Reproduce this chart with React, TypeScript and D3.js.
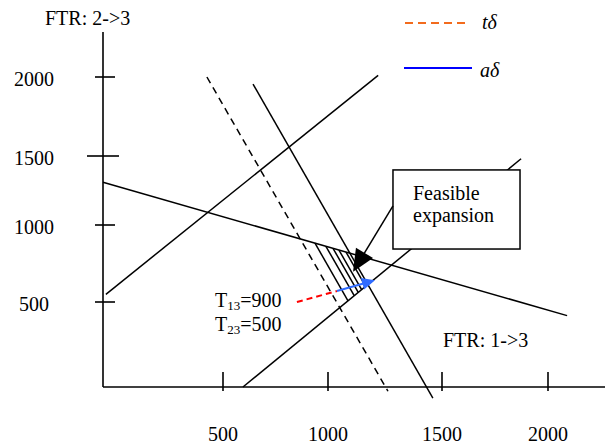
import React from "react";
import * as d3 from "d3";

// ---- data (FTR space, MW) ----
const xTicks = [500, 1000, 1500, 2000];
const yTicks = [500, 1000, 1500, 2000];
const xTickLabels = ["500", "1000", "1500", "2000"];
const yTickLabels = ["500", "1000", "1500", "2000"];

// constraint lines, each as two [FTR 1->3, FTR 2->3] points
const lineA = [[0, 1310], [2090, 420]];
const lineB = [[12, 550], [1220, 2010]];
const lineC = [[643, 1955], [1460, -65]];
const lineD = [[595, 0], [1873, 1480]];
const dashedLine = [[433, 2000], [1263, -25]];

// hatching of the feasible expansion region: start points on line A (FTR 1->3)
const hatchStarts = [938, 990, 1022, 1048, 1079];

// annotations
const boxCorners = [[1285, 1399], [1868, 844]];
const boxArrow = [[1285, 1138], [1110, 697]];
const redSegment = [[852, 500], [1039, 571]];
const blueArrow = [[1039, 571], [1206, 641]];
const axisMax = [2300, 2285];

const W = 605;
const H = 445;
const FONT = "Liberation Serif, Times New Roman, Times, DejaVu Serif, serif";

const x = d3.scaleLinear().domain([0, 500, 1000, 1500, 2000]).range([103, 223, 328, 442, 548]);
const y = d3.scaleLinear().domain([0, 500, 1000, 1500, 2000]).range([387, 302, 225, 156, 77]);

type P = number[];
const px = (p: P): [number, number] => [x(p[0]), y(p[1])];

function intersect(a1: [number, number], a2: [number, number], b1: [number, number], b2: [number, number]): [number, number] {
  const d1x = a2[0] - a1[0], d1y = a2[1] - a1[1];
  const d2x = b2[0] - b1[0], d2y = b2[1] - b1[1];
  const den = d1x * d2y - d1y * d2x;
  const t = ((b1[0] - a1[0]) * d2y - (b1[1] - a1[1]) * d2x) / den;
  return [a1[0] + t * d1x, a1[1] + t * d1y];
}

function arrow(p1: [number, number], p2: [number, number], len: number, half: number) {
  const dx = p2[0] - p1[0], dy = p2[1] - p1[1];
  const L = Math.hypot(dx, dy);
  const ux = dx / L, uy = dy / L;
  const bx = p2[0] - ux * len, by = p2[1] - uy * len;
  return {
    shaftEnd: [bx + ux * 2, by + uy * 2] as [number, number],
    head: `${p2[0]},${p2[1]} ${bx - uy * half},${by + ux * half} ${bx + uy * half},${by - ux * half}`,
  };
}

const lineGen = d3.line<[number, number]>();

export default function App() {
  const A1 = px(lineA[0]), A2 = px(lineA[1]);
  const C1 = px(lineC[0]), C2 = px(lineC[1]);
  const D1 = px(lineD[0]), D2 = px(lineD[1]);
  const cdx = C2[0] - C1[0], cdy = C2[1] - C1[1];

  const hatch = hatchStarts.map((hx) => {
    const vx = x(hx);
    const s = intersect(A1, A2, [vx, 0], [vx, 1]);
    const e = intersect(s, [s[0] + cdx, s[1] + cdy], D1, D2);
    return [s, e] as [number, number][];
  });

  const solidLines = [lineA, lineB, lineC, lineD];
  const bA = arrow(px(boxArrow[0]), px(boxArrow[1]), 22, 10);
  const blA = arrow(px(blueArrow[0]), px(blueArrow[1]), 13, 6);

  const bx0 = x(boxCorners[0][0]), by0 = y(boxCorners[0][1]);
  const bx1 = x(boxCorners[1][0]), by1 = y(boxCorners[1][1]);

  const tp = { fontFamily: FONT, fontSize: 20, fill: "#000" };

  return (
    <svg width={W} height={H} style={{ position: "absolute", left: 0, top: 0, background: "#fff" }}>
      {/* axes */}
      <line x1={x(0)} y1={y(0)} x2={x(0)} y2={y(axisMax[1])} stroke="#000" strokeWidth={1.6} />
      <line x1={x(0)} y1={y(0)} x2={x(axisMax[0])} y2={y(0)} stroke="#000" strokeWidth={1.6} />
      {xTicks.map((v, i) => (
        <g key={"xt" + i}>
          <line x1={x(v)} x2={x(v)} y1={y(0) - 15} y2={y(0) + 4} stroke="#000" strokeWidth={1.6} />
          <text x={x(v)} y={441} textAnchor="middle" {...tp}>{xTickLabels[i]}</text>
        </g>
      ))}
      {yTicks.map((v, i) => (
        <g key={"yt" + i}>
          <line x1={x(0) - (v === 1500 ? 16 : 8)} x2={x(0) + (v === 1500 ? 16 : 12)} y1={y(v)} y2={y(v)} stroke="#000" strokeWidth={1.6} />
          <text x={34} y={y(v) + 9} textAnchor="middle" {...tp}>{yTickLabels[i]}</text>
        </g>
      ))}

      {/* constraint lines */}
      {solidLines.map((l, i) => (
        <path key={"l" + i} d={lineGen([px(l[0]), px(l[1])]) || ""} stroke="#000" strokeWidth={1.5} fill="none" />
      ))}
      <path d={lineGen([px(dashedLine[0]), px(dashedLine[1])]) || ""} stroke="#000" strokeWidth={1.5} strokeDasharray="7,5" fill="none" />

      {/* hatching */}
      {hatch.map((h, i) => (
        <path key={"h" + i} d={lineGen(h) || ""} stroke="#000" strokeWidth={1.5} fill="none" />
      ))}

      {/* feasible expansion box */}
      <rect x={bx0} y={by0} width={bx1 - bx0} height={by1 - by0} fill="#fff" stroke="#000" strokeWidth={1.5} />
      <text x={413} y={200} {...tp}>Feasible</text>
      <text x={413} y={222} {...tp}>expansion</text>
      <path d={lineGen([px(boxArrow[0]), bA.shaftEnd]) || ""} stroke="#000" strokeWidth={1.5} fill="none" />
      <polygon points={bA.head} fill="#000" />

      {/* tδ / aδ vectors */}
      <path d={lineGen([px(redSegment[0]), px(redSegment[1])]) || ""} stroke="#ff0000" strokeWidth={2} strokeDasharray="6,4" fill="none" />
      <path d={lineGen([px(blueArrow[0]), blA.shaftEnd]) || ""} stroke="#2f6bff" strokeWidth={2} fill="none" />
      <polygon points={blA.head} fill="#2f6bff" />

      {/* labels */}
      <text x={45} y={25} {...tp}>FTR: 2-&gt;3</text>
      <text x={443} y={347} {...tp}>FTR: 1-&gt;3</text>
      <text x={215} y={307} {...tp}>
        T<tspan fontSize={13} dy={3}>13</tspan><tspan dy={-3}>=900</tspan>
      </text>
      <text x={215} y={331} {...tp}>
        T<tspan fontSize={13} dy={3}>23</tspan><tspan dy={-3}>=500</tspan>
      </text>

      {/* legend */}
      <line x1={405} x2={465} y1={23} y2={23} stroke="#f26b1d" strokeWidth={2} strokeDasharray="8,5" />
      <text x={482} y={29} {...tp} fontStyle="italic">tδ</text>
      <line x1={404} x2={472} y1={68} y2={68} stroke="#0000ff" strokeWidth={2} />
      <text x={480} y={77} {...tp} fontStyle="italic">aδ</text>
    </svg>
  );
}
